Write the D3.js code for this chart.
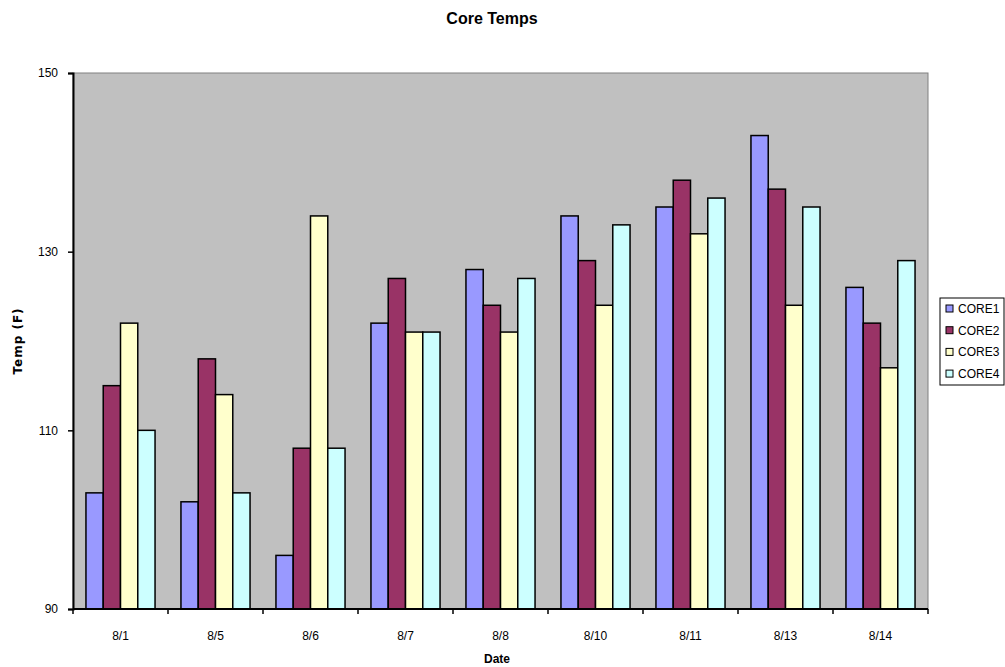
<!DOCTYPE html>
<html>
<head>
  <title>Core Temps</title>
  <meta charset="utf-8">
  <script src="https://d3js.org/d3.v7.min.js"></script>
  <style>
    body { margin: 0; background: #fff; }
    text { font-family: "Liberation Sans", Arial, sans-serif; }
  </style>
</head>
<body>
<script>

// data
var dates = ["8/1", "8/5", "8/6", "8/7", "8/8", "8/10", "8/11", "8/13", "8/14"];
var seriesNames = ["CORE1", "CORE2", "CORE3", "CORE4"];
var core1 = [103, 102, 96, 122, 128, 134, 135, 143, 126];
var core2 = [115, 118, 108, 127, 124, 129, 138, 137, 122];
var core3 = [122, 114, 134, 121, 121, 124, 132, 124, 117];
var core4 = [110, 103, 108, 121, 127, 133, 136, 135, 129];
var yTicks = [90, 110, 130, 150];
var colors = ["#9999ff", "#993366", "#ffffcc", "#ccffff"];

var allSeries = [core1, core2, core3, core4];

var svgWidth = 1005, svgHeight = 667;
var margin = {left: 73, top: 73, right: 77, bottom: 58};
var graphWidth = svgWidth - margin.left - margin.right;
var graphHeight = svgHeight - margin.top - margin.bottom;

var svg = d3.select("body").append("svg")
    .attr("width", svgWidth)
    .attr("height", svgHeight);

var graph = svg.append("g")
    .attr("transform", "translate(" + margin.left + "," + margin.top + ")");

var x0 = d3.scaleBand()
    .domain(dates)
    .range([0, graphWidth]);

// excel style: gap width 150% of a bar
var x1 = d3.scaleBand()
    .domain(seriesNames)
    .range([0, x0.bandwidth()])
    .paddingOuter(0.75);

var y = d3.scaleLinear()
    .domain([90, 150])
    .range([graphHeight, 0]);

// plot area
graph.append("rect")
    .attr("width", graphWidth)
    .attr("height", graphHeight)
    .attr("fill", "#c0c0c0")
    .attr("stroke", "#808080")
    .attr("stroke-width", 1);

var groups = graph.selectAll(".date")
    .data(dates)
  .enter().append("g")
    .attr("class", "date")
    .attr("transform", function(d) { return "translate(" + x0(d) + ",0)"; });

groups.selectAll("rect")
    .data(function(d, i) {
      return seriesNames.map(function(s, j) { return {name: s, value: allSeries[j][i], k: j}; });
    })
  .enter().append("rect")
    .attr("x", function(d) { return x1(d.name); })
    .attr("y", function(d) { return y(d.value); })
    .attr("width", x1.bandwidth())
    .attr("height", function(d) { return graphHeight - y(d.value); })
    .attr("fill", function(d) { return colors[d.k]; })
    .attr("stroke", "#000")
    .attr("stroke-width", 1.5);

// axes
var xAxis = graph.append("g")
    .attr("transform", "translate(0," + graphHeight + ")");
xAxis.append("line")
    .attr("x1", 0).attr("x2", graphWidth)
    .attr("stroke", "#000").attr("stroke-width", 2);
xAxis.selectAll(".tick")
    .data(d3.range(dates.length + 1))
  .enter().append("line")
    .attr("x1", function(i) { return i * x0.step(); })
    .attr("x2", function(i) { return i * x0.step(); })
    .attr("y1", 0).attr("y2", 5)
    .attr("stroke", "#000").attr("stroke-width", 1.5);
xAxis.selectAll(".lbl")
    .data(dates)
  .enter().append("text")
    .attr("x", function(d) { return x0(d) + x0.bandwidth() / 2; })
    .attr("y", 31)
    .attr("text-anchor", "middle")
    .style("font-size", "12px")
    .text(function(d) { return d; });

var yAxis = graph.append("g")
    .call(d3.axisLeft(y).tickValues(yTicks).tickSize(5).tickPadding(10));
yAxis.select(".domain").attr("stroke-width", 2);
yAxis.selectAll(".tick line").attr("stroke-width", 1.5);
yAxis.selectAll(".tick text")
    .style("font-size", "12px")
    .style("font-family", "'Liberation Sans', Arial, sans-serif")
    .attr("fill", "#000");

// titles
svg.append("text")
    .attr("x", 492).attr("y", 24)
    .attr("text-anchor", "middle")
    .style("font-size", "16px").style("font-weight", "bold")
    .text("Core Temps");

svg.append("text")
    .attr("transform", "translate(22,341) rotate(-90)")
    .attr("text-anchor", "middle")
    .style("font-family", "'DejaVu Sans', sans-serif")
    .style("font-size", "12px").style("font-weight", "bold")
    .style("letter-spacing", "1px")
    .text("Temp (F)");

svg.append("text")
    .attr("x", 497).attr("y", 663)
    .attr("text-anchor", "middle")
    .style("font-size", "12px").style("font-weight", "bold")
    .text("Date");

// legend
var legend = svg.append("g").attr("transform", "translate(940,298)");
legend.append("rect")
    .attr("width", 64).attr("height", 87)
    .attr("fill", "#fff").attr("stroke", "#000").attr("stroke-width", 1);
var items = legend.selectAll(".item")
    .data(seriesNames)
  .enter().append("g")
    .attr("transform", function(d, i) { return "translate(0," + (11 + i * 21.7) + ")"; });
items.append("rect")
    .attr("x", 6).attr("y", -4)
    .attr("width", 7).attr("height", 7)
    .attr("fill", function(d, i) { return colors[i]; })
    .attr("stroke", "#000").attr("stroke-width", 1);
items.append("text")
    .attr("x", 18).attr("y", 4)
    .style("font-size", "12px")
    .text(function(d) { return d; });

</script>
</body>
</html>
